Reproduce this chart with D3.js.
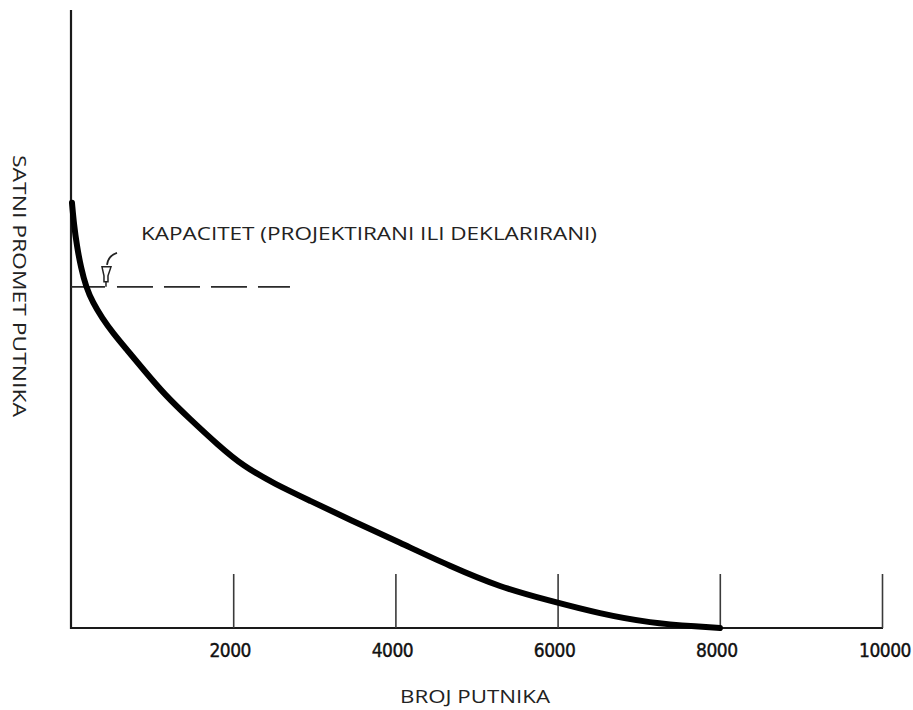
<!DOCTYPE html>
<html>
<head>
<meta charset="utf-8">
<script src="https://cdn.jsdelivr.net/npm/d3@7"></script>
<style>
  html, body { margin: 0; padding: 0; background: #fff; }
  svg { display: block; }
</style>
</head>
<body>
<svg id="chart" width="913" height="710"></svg>
<script>
// ---- data ----
const tickValues = [2000, 4000, 6000, 8000, 10000];
const tickLabels = ["2000", "4000", "6000", "8000", "10000"];
const curveX = [12, 37, 74, 123, 185, 271, 382, 518, 691, 900, 1159, 1467, 1813, 2121, 2515, 2947, 3440, 4057, 4673, 5290, 5906, 6523, 7139, 7756, 8002];
const curveY = [68.8, 65.2, 61.7, 58.3, 55.2, 52.6, 50.2, 47.7, 45.0, 41.7, 37.7, 33.8, 29.6, 26.2, 23.3, 20.6, 17.5, 13.8, 10.0, 6.6, 4.4, 2.3, 0.8, 0.2, 0];
const capacityValue = 55.2;
const capacityRange = [0, 2700];
const capacityLabel = "KAPACITET (PROJEKTIRANI ILI DEKLARIRANI)";
const xTitle = "BROJ PUTNIKA";
const yTitle = "SATNI PROMET PUTNIKA";

// ---- scales ----
const svg = d3.select("#chart");
const x = d3.scaleLinear().domain([0, 10000]).range([71, 882]);
const y = d3.scaleLinear().domain([0, 100]).range([628, 10]);

// axes
svg.append("line")
  .attr("x1", x(0)).attr("x2", x(0))
  .attr("y1", y(0) + 1).attr("y2", y(100))
  .attr("stroke", "#1a1a1a").attr("stroke-width", 2.2);
svg.append("line")
  .attr("x1", x(0) - 1).attr("x2", x(10000) + 1)
  .attr("y1", y(0)).attr("y2", y(0))
  .attr("stroke", "#1a1a1a").attr("stroke-width", 2.2);

// ticks (upward) via d3 axis
const xAxis = d3.axisTop(x).tickValues(tickValues).tickSize(54).tickFormat("");
const gAxis = svg.append("g").attr("transform", `translate(0,${y(0)})`).call(xAxis);
gAxis.select(".domain").remove();
gAxis.selectAll(".tick line").attr("stroke", "#3a3a3a").attr("stroke-width", 1.6);

// tick labels
svg.append("g").selectAll("text")
  .data(tickValues)
  .join("text")
  .attr("x", (d, i) => x(d) - (i === 4 ? -3 : 3))
  .attr("y", 657)
  .attr("text-anchor", "middle")
  .attr("font-family", "'DejaVu Sans Condensed', 'DejaVu Sans', sans-serif")
  .attr("font-size", 19)
  .attr("fill", "#111")
  .attr("stroke", "#111").attr("stroke-width", 0.4)
  .attr("letter-spacing", -0.5)
  .text((d, i) => tickLabels[i]);

// capacity line: solid part then dashes
const capY = y(capacityValue);
svg.append("line")
  .attr("x1", x(0)).attr("x2", x(419))
  .attr("y1", capY).attr("y2", capY)
  .attr("stroke", "#2a2a2a").attr("stroke-width", 1.8);
svg.append("line")
  .attr("x1", x(567)).attr("x2", x(capacityRange[1]))
  .attr("y1", capY).attr("y2", capY)
  .attr("stroke", "#2a2a2a").attr("stroke-width", 1.8)
  .attr("stroke-dasharray", "36,11");

// little hook marker
const hx = x(419), hy = capY;
svg.append("path")
  .attr("d", `M${hx + 12},${hy - 34} Q${hx + 3},${hy - 31} ${hx + 2},${hy - 22}`)
  .attr("fill", "none").attr("stroke", "#222").attr("stroke-width", 1.8);
svg.append("path")
  .attr("d", `M${hx - 3},${hy - 20} L${hx + 6},${hy - 20} L${hx + 3},${hy - 11} L${hx + 3},${hy - 5} L${hx - 1},${hy - 5} L${hx - 1},${hy - 11} Z`)
  .attr("fill", "none").attr("stroke", "#222").attr("stroke-width", 1.5);
svg.append("line")
  .attr("x1", hx + 1).attr("x2", hx + 1)
  .attr("y1", hy - 5).attr("y2", hy)
  .attr("stroke", "#222").attr("stroke-width", 1.5);

// main curve
const pts = curveX.map((d, i) => [d, curveY[i]]);
const line = d3.line().x(d => x(d[0])).y(d => y(d[1])).curve(d3.curveBasis);
svg.append("path")
  .datum(pts)
  .attr("d", line)
  .attr("fill", "none")
  .attr("stroke", "#000")
  .attr("stroke-width", 6)
  .attr("stroke-linecap", "round");

// texts
const labelFont = "'Open Sans', 'Noto Sans', sans-serif";
svg.append("text")
  .attr("x", 141).attr("y", 240)
  .attr("font-family", labelFont).attr("font-size", 19)
  .attr("fill", "#222")
  .attr("textLength", 456).attr("lengthAdjust", "spacingAndGlyphs")
  .text(capacityLabel);

svg.append("text")
  .attr("x", 400).attr("y", 703)
  .attr("font-family", labelFont).attr("font-size", 18)
  .attr("fill", "#222")
  .attr("textLength", 150).attr("lengthAdjust", "spacingAndGlyphs")
  .text(xTitle);

svg.append("text")
  .attr("transform", "translate(13,155) rotate(90)")
  .attr("x", 0).attr("y", 0)
  .attr("font-family", labelFont).attr("font-size", 19)
  .attr("fill", "#222")
  .attr("textLength", 262).attr("lengthAdjust", "spacingAndGlyphs")
  .text(yTitle);
</script>
</body>
</html>
